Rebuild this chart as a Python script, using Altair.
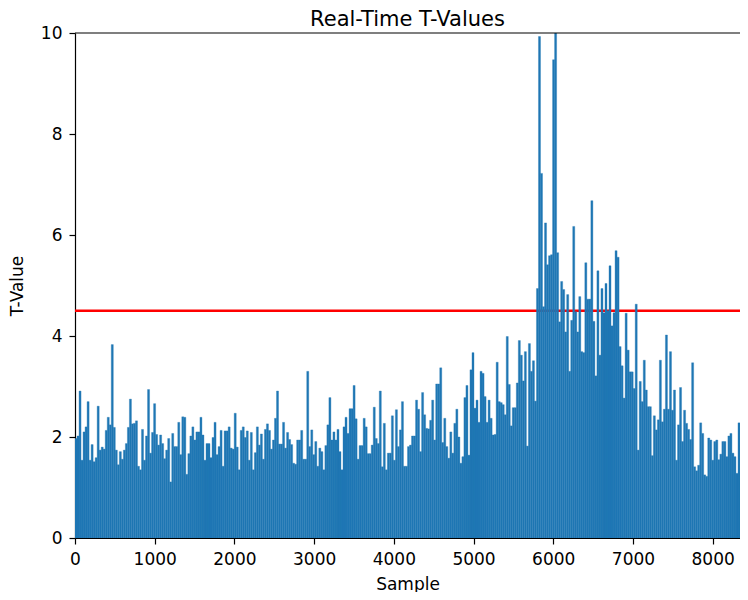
import altair as alt
import pandas as pd

TITLE = "Real-Time T-Values"
X_TITLE = "Sample"
Y_TITLE = "T-Value"
THRESHOLD = 4.5
DATA_END = 8444      # sample index where the last bar ends
X_MAX = 8343         # right edge of the visible plot area
Y_MAX = 10
X_TICKS = [0, 1000, 2000, 3000, 4000, 5000, 6000, 7000, 8000]
Y_TICKS = [0, 2, 4, 6, 8, 10]

SEG1 = [1.97, 2.02, 2.91, 1.54, 2.10, 2.20, 2.70, 1.54, 1.85, 1.51, 1.59, 2.61, 1.74, 1.80, 1.76,
        2.13, 2.39, 2.24, 3.83, 2.19, 1.74, 1.45, 1.71, 1.56, 1.74, 1.87, 2.19, 2.75, 2.26, 2.27,
        2.32, 1.42, 1.35, 2.15, 1.54, 2.02, 2.94, 1.68, 2.09, 2.66, 2.05, 1.84, 2.04, 1.87, 1.57,
        1.74, 1.97, 1.11, 2.07, 1.81, 1.81, 2.29, 1.65, 2.40, 2.39, 1.26, 1.67, 2.02, 2.20, 1.94,
        2.10, 2.10, 2.39, 2.04, 1.54, 1.87, 1.87, 1.59, 1.99, 2.29, 1.65, 1.81, 2.13, 1.42, 2.12,
        2.12, 2.20, 1.78, 1.76, 2.47, 1.80, 1.35, 2.13]
SEG2 = [2.20, 1.99, 2.12, 1.54, 2.09, 1.35, 1.69, 2.20, 1.84, 2.06, 1.56, 2.15, 2.26, 2.13, 1.76,
        1.94, 2.37, 2.91, 1.86, 1.86, 2.29, 1.78, 2.09, 1.95, 1.85, 1.48, 1.46, 1.94, 1.94, 2.13,
        1.56, 1.56, 3.30, 1.81, 2.14, 1.65, 1.91, 1.42, 1.78, 1.71, 1.35, 1.83, 2.24, 2.78, 1.94,
        2.10, 1.94, 2.15, 1.71, 1.35, 2.20, 2.39, 2.07, 2.56, 2.56, 3.02, 2.36, 1.56, 1.83, 1.83,
        2.37, 2.20, 1.67, 1.67, 1.84, 2.59, 1.97, 1.87, 2.91, 1.41, 2.27, 1.35, 1.68, 1.68, 2.42,
        1.54, 2.54, 1.81, 2.14, 2.70, 1.42, 1.42, 1.81]
SEG3 = [1.84, 2.02, 2.02, 2.73, 2.55, 1.71, 2.88, 2.44, 2.17, 2.16, 2.33, 2.73, 1.94, 3.05, 3.05,
        3.37, 1.89, 2.37, 1.81, 1.58, 2.10, 1.68, 2.27, 2.55, 2.00, 1.48, 1.61, 2.78, 3.02, 1.64,
        3.33, 3.67, 2.57, 2.73, 2.29, 3.30, 3.26, 2.80, 2.29, 2.73, 2.37, 2.04, 2.05, 3.48, 2.70,
        2.68, 2.64, 2.44, 3.99, 3.04, 2.22, 2.58, 2.58, 3.07, 3.91, 3.62, 3.11, 3.69, 1.82, 3.85,
        3.30, 3.51, 2.71, 4.94, 9.93, 7.22, 4.58, 6.24, 5.41, 5.59, 5.61, 9.47, 10.4, 5.65, 4.28,
        5.08, 4.92, 4.08, 4.82, 3.30, 4.31, 6.17, 4.48, 4.08, 4.78, 3.69]
SEG4 = [3.67, 5.45, 4.73, 4.73, 6.68, 4.29, 3.21, 5.29, 3.62, 4.94, 4.46, 5.04, 4.50, 5.39, 4.20,
        4.46, 5.69, 5.56, 3.79, 3.41, 2.77, 4.45, 3.72, 3.29, 3.29, 2.96, 4.63, 1.74, 3.10, 2.70,
        3.52, 2.93, 2.60, 2.60, 1.63, 2.42, 2.14, 2.34, 3.52, 2.30, 2.55, 4.02, 2.55, 3.69, 2.53,
        2.93, 1.54, 2.24, 2.98, 1.91, 2.53, 2.27, 2.15, 1.95, 3.47, 1.41, 1.33, 1.44, 2.28, 2.07,
        1.25, 1.22, 1.98, 1.94, 1.54, 1.91, 1.94, 1.55, 1.66, 1.91, 1.91, 1.61, 2.02, 2.07, 1.68,
        1.61, 1.28, 2.28, 1.84, 1.94, 1.68, 1.49]

T_VALUES = SEG1 + SEG2 + SEG3 + SEG4
STEP = DATA_END / len(T_VALUES)

df = pd.DataFrame({
    "start": [i * STEP for i in range(len(T_VALUES))],
    "end": [(i + 1) * STEP for i in range(len(T_VALUES))],
    "t": T_VALUES,
})

FONT = "DejaVu Sans"
BAR_COLOR = "#1f77b4"
W, H = 665, 505
xscale = alt.Scale(domain=[0, X_MAX], nice=False, zero=False)
yscale = alt.Scale(domain=[0, Y_MAX], nice=False)

common_axis = dict(
    grid=False, labelFont=FONT, labelFontSize=17, labelColor="black",
    titleFont=FONT, titleFontSize=17, titleFontWeight="normal", titleColor="black",
    tickSize=6, tickColor="black", tickWidth=1.2, domainColor="black", domainWidth=1.2,
    labelFlush=False, labelOverlap=False, labelPadding=7,
)

threshold = alt.Chart(pd.DataFrame({"t": [THRESHOLD]})).mark_rule(
    color="#ff0000", strokeWidth=2.5
).encode(y=alt.Y("t:Q", scale=yscale))

bars = alt.Chart(df).mark_bar(
    color=BAR_COLOR, stroke=BAR_COLOR, strokeWidth=0.35, clip=True
).encode(
    x=alt.X("start:Q", scale=xscale,
            axis=alt.Axis(values=X_TICKS, format="d", title=X_TITLE, titleY=51,
                          titleBaseline="alphabetic", **common_axis)),
    x2="end:Q",
    y=alt.Y("t:Q", scale=yscale,
            axis=alt.Axis(values=Y_TICKS, title=Y_TITLE, titleX=-58, titleY=H / 2,
                          titleAngle=270, titleAlign="center", titleBaseline="middle",
                          **common_axis)),
    y2=alt.datum(0),
)

top_spine = alt.Chart(pd.DataFrame({"t": [Y_MAX]})).mark_rule(
    color="black", strokeWidth=1.2
).encode(y=alt.Y("t:Q", scale=yscale))

title_text = alt.Chart(pd.DataFrame({"label": [TITLE]})).mark_text(
    font=FONT, fontSize=21, color="black", align="center", baseline="alphabetic"
).encode(text="label:N", x=alt.value(W / 2), y=alt.value(-7))

chart = alt.layer(threshold, bars, top_spine, title_text).properties(
    width=W, height=H,
    autosize=alt.AutoSizeParams(type="none"),
    padding={"left": 67, "top": 25, "right": 0, "bottom": 54},
).configure_view(stroke=None)

chart.save("out.html", embed_options={"renderer": "svg", "actions": False})
